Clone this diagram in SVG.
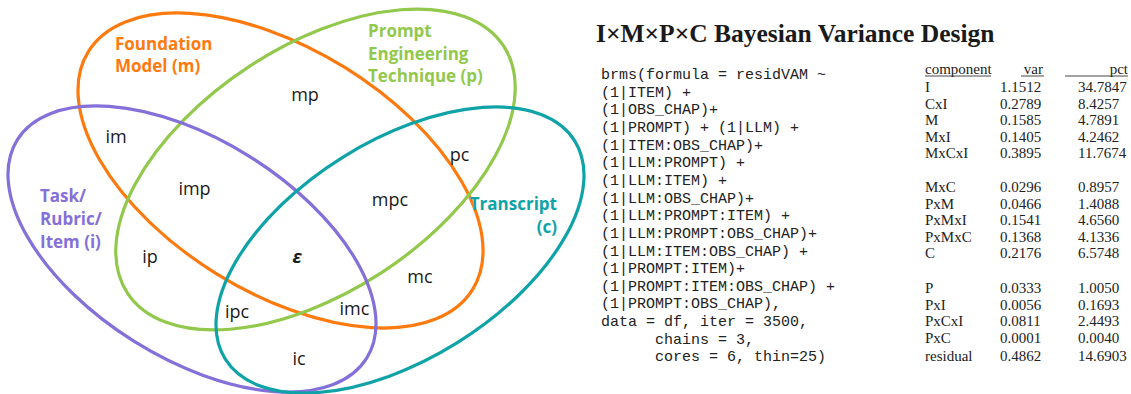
<svg xmlns="http://www.w3.org/2000/svg" width="1131" height="394" viewBox="0 0 1131 394">
  <style>
    .set { fill: none; stroke-width: 3.2; }
    .m { stroke: #FF7A0E; }
    .p { stroke: #92C84C; }
    .i { stroke: #8470D8; }
    .c { stroke: #0FA3A8; }
    .setname { font-family: "Open Sans", "Liberation Sans", sans-serif; font-weight: bold; font-size: 17px; }
    .region { font-family: "Open Sans", "Liberation Sans", sans-serif; font-size: 18px; fill: #1a1a1a; text-anchor: middle; }
    .title { font-family: "Liberation Serif", serif; font-weight: bold; font-size: 25.5px; fill: #1a1a1a; }
    .code { font-family: "Liberation Mono", monospace; font-size: 15px; fill: #222; }
    .tbl { font-family: "Liberation Serif", serif; font-size: 15px; fill: #222; }
    .rule { stroke: #333; stroke-width: 0.9; }
  </style>

  <!-- Four-set Venn diagram: ellipses -->
  <g id="connectors">
    <ellipse id="set-m" class="set m" cx="280.5" cy="170.5" rx="226" ry="121.5" transform="rotate(31.75 280.5 170.5)"/>
    <ellipse id="set-p" class="set p" cx="315.5" cy="169.5" rx="225" ry="122.5" transform="rotate(-33.3 315.5 169.5)"/>
    <ellipse id="set-i" class="set i" cx="192" cy="249" rx="206" ry="109" transform="rotate(32 192 249)"/>
    <ellipse id="set-c" class="set c" cx="400" cy="250" rx="206" ry="109" transform="rotate(-32 400 250)"/>
  </g>

  <!-- Set names -->
  <g id="label-m">
    <text class="setname" fill="#FF7A0E" x="115" y="50">Foundation</text>
    <text class="setname" fill="#FF7A0E" x="115" y="72">Model (m)</text>
  </g>
  <g id="label-p">
    <text class="setname" fill="#92C84C" x="368" y="37">Prompt</text>
    <text class="setname" fill="#92C84C" x="368" y="59.5">Engineering</text>
    <text class="setname" fill="#92C84C" x="368" y="82">Technique (p)</text>
  </g>
  <g id="label-i">
    <text class="setname" fill="#8470D8" x="40" y="202">Task/</text>
    <text class="setname" fill="#8470D8" x="40" y="225">Rubric/</text>
    <text class="setname" fill="#8470D8" x="40" y="248">Item (i)</text>
  </g>
  <g id="label-c">
    <text class="setname" fill="#0FA3A8" x="557" y="210" text-anchor="end">Transcript</text>
    <text class="setname" fill="#0FA3A8" x="557" y="233" text-anchor="end">(c)</text>
  </g>

  <!-- Region labels -->
  <g id="regions">
    <text class="region" x="305" y="101">mp</text>
    <text class="region" x="116" y="143">im</text>
    <text class="region" x="459.5" y="161">pc</text>
    <text class="region" x="194.5" y="195">imp</text>
    <text class="region" x="390" y="206">mpc</text>
    <text class="region" x="150" y="263">ip</text>
    <text class="region" x="297" y="263" font-weight="bold" font-style="italic">ε</text>
    <text class="region" x="420" y="283">mc</text>
    <text class="region" x="237" y="318">ipc</text>
    <text class="region" x="354.5" y="315">imc</text>
    <text class="region" x="299" y="365">ic</text>
  </g>

  <!-- Title -->
  <g id="title">
    <text class="title" x="596" y="42">I×M×P×C Bayesian Variance Design</text>
  </g>

  <!-- Model formula -->
  <g id="formula">
    <text class="code" x="601" y="79">
      <tspan x="601" y="79">brms(formula = residVAM ~</tspan>
      <tspan x="601" y="96.65">(1|ITEM) +</tspan>
      <tspan x="601" y="114.3">(1|OBS_CHAP)+</tspan>
      <tspan x="601" y="131.95">(1|PROMPT) + (1|LLM) +</tspan>
      <tspan x="601" y="149.6">(1|ITEM:OBS_CHAP)+</tspan>
      <tspan x="601" y="167.25">(1|LLM:PROMPT) +</tspan>
      <tspan x="601" y="184.9">(1|LLM:ITEM) +</tspan>
      <tspan x="601" y="202.55">(1|LLM:OBS_CHAP)+</tspan>
      <tspan x="601" y="220.2">(1|LLM:PROMPT:ITEM) +</tspan>
      <tspan x="601" y="237.85">(1|LLM:PROMPT:OBS_CHAP)+</tspan>
      <tspan x="601" y="255.5">(1|LLM:ITEM:OBS_CHAP) +</tspan>
      <tspan x="601" y="273.15">(1|PROMPT:ITEM)+</tspan>
      <tspan x="601" y="290.8">(1|PROMPT:ITEM:OBS_CHAP) +</tspan>
      <tspan x="601" y="308.45">(1|PROMPT:OBS_CHAP),</tspan>
      <tspan x="601" y="326.1">data = df, iter = 3500,</tspan>
      <tspan x="655" y="343.75">chains = 3,</tspan>
      <tspan x="655" y="361.4">cores = 6, thin=25)</tspan>
    </text>
  </g>

  <!-- Variance component table -->
  <g id="table">
    <text class="tbl" x="925" y="74">component</text>
    <text class="tbl" x="1043" y="74" text-anchor="end">var</text>
    <text class="tbl" x="1128" y="74" text-anchor="end">pct</text>
    <line class="rule" x1="925" y1="76" x2="991" y2="76"/>
    <line class="rule" x1="1021" y1="76" x2="1044" y2="76"/>
    <line class="rule" x1="1065" y1="76" x2="1128" y2="76"/>

    <text class="tbl">
      <tspan x="925" y="92">I</tspan>
      <tspan x="925" y="108.5">CxI</tspan>
      <tspan x="925" y="125">M</tspan>
      <tspan x="925" y="141.5">MxI</tspan>
      <tspan x="925" y="158">MxCxI</tspan>
      <tspan x="925" y="192">MxC</tspan>
      <tspan x="925" y="208.5">PxM</tspan>
      <tspan x="925" y="225">PxMxI</tspan>
      <tspan x="925" y="241.5">PxMxC</tspan>
      <tspan x="925" y="258">C</tspan>
      <tspan x="925" y="293">P</tspan>
      <tspan x="925" y="309.5">PxI</tspan>
      <tspan x="925" y="326">PxCxI</tspan>
      <tspan x="925" y="342.5">PxC</tspan>
      <tspan x="925" y="361">residual</tspan>
    </text>
    <text class="tbl">
      <tspan x="1000" y="92">1.1512</tspan>
      <tspan x="1000" y="108.5">0.2789</tspan>
      <tspan x="1000" y="125">0.1585</tspan>
      <tspan x="1000" y="141.5">0.1405</tspan>
      <tspan x="1000" y="158">0.3895</tspan>
      <tspan x="1000" y="192">0.0296</tspan>
      <tspan x="1000" y="208.5">0.0466</tspan>
      <tspan x="1000" y="225">0.1541</tspan>
      <tspan x="1000" y="241.5">0.1368</tspan>
      <tspan x="1000" y="258">0.2176</tspan>
      <tspan x="1000" y="293">0.0333</tspan>
      <tspan x="1000" y="309.5">0.0056</tspan>
      <tspan x="1000" y="326">0.0811</tspan>
      <tspan x="1000" y="342.5">0.0001</tspan>
      <tspan x="1000" y="361">0.4862</tspan>
    </text>
    <text class="tbl">
      <tspan x="1078" y="92">34.7847</tspan>
      <tspan x="1078" y="108.5">8.4257</tspan>
      <tspan x="1078" y="125">4.7891</tspan>
      <tspan x="1078" y="141.5">4.2462</tspan>
      <tspan x="1078" y="158">11.7674</tspan>
      <tspan x="1078" y="192">0.8957</tspan>
      <tspan x="1078" y="208.5">1.4088</tspan>
      <tspan x="1078" y="225">4.6560</tspan>
      <tspan x="1078" y="241.5">4.1336</tspan>
      <tspan x="1078" y="258">6.5748</tspan>
      <tspan x="1078" y="293">1.0050</tspan>
      <tspan x="1078" y="309.5">0.1693</tspan>
      <tspan x="1078" y="326">2.4493</tspan>
      <tspan x="1078" y="342.5">0.0040</tspan>
      <tspan x="1078" y="361">14.6903</tspan>
    </text>
  </g>
</svg>
